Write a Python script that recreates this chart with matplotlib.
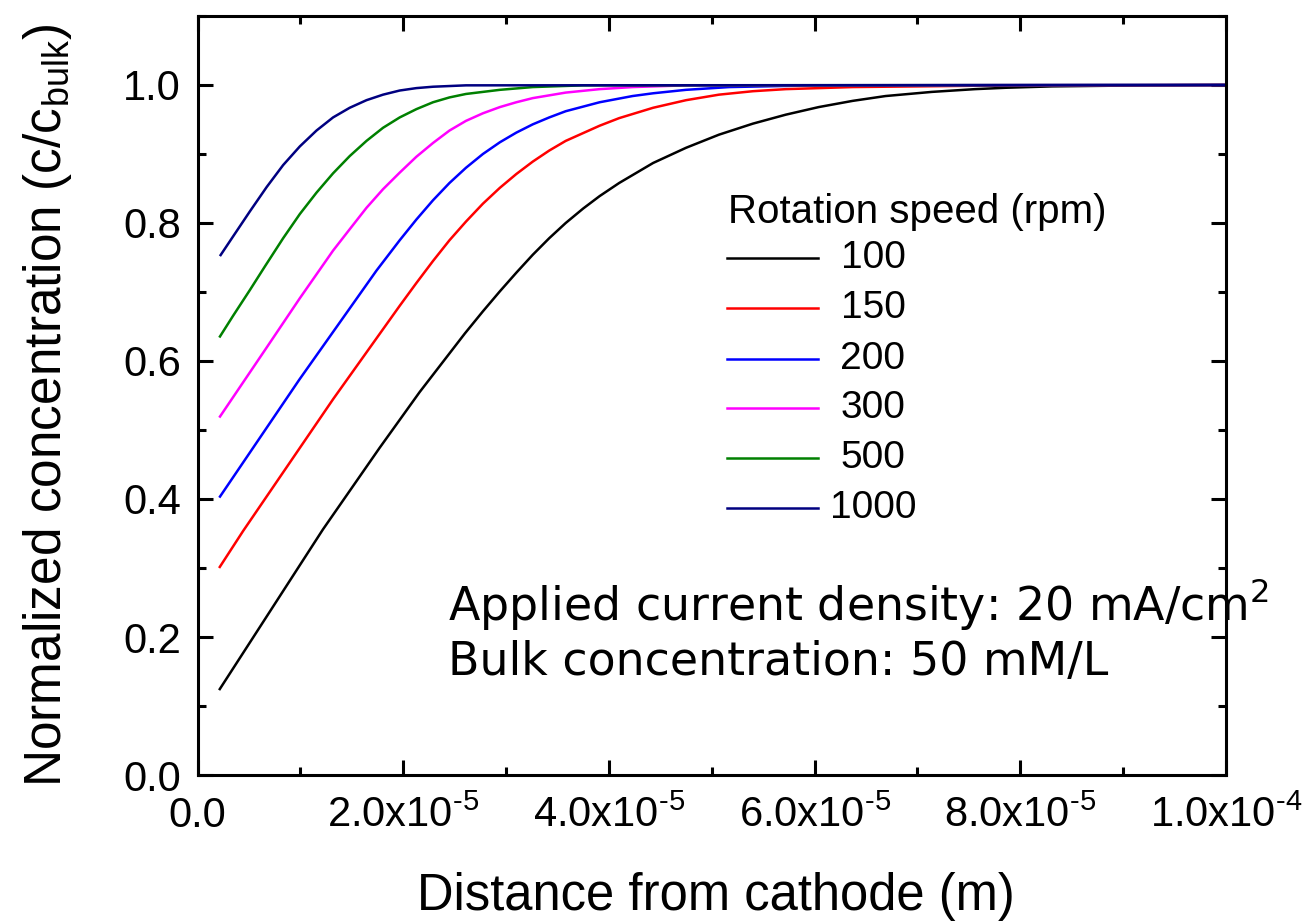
import numpy as np
import matplotlib
matplotlib.use('Agg')
import matplotlib.pyplot as plt
from matplotlib.ticker import MultipleLocator, FuncFormatter

# distance from cathode, in 1e-6 m, and normalized concentration c/c_bulk
x_100 = [2.1, 12.2, 17.7, 21.6, 26.0, 27.75, 29.4, 31.0, 32.6, 34.2, 35.8, 37.5, 39.1,
         41.0, 44.3, 47.5, 50.7, 54.0, 57.2, 60.4, 63.7, 66.9, 71.4, 75.6, 78.6, 83.1,
         92.2, 100.0]
y_100 = [0.123, 0.356, 0.474, 0.555, 0.640, 0.672, 0.701, 0.728, 0.754, 0.778, 0.800, 0.821,
         0.839, 0.858, 0.887, 0.909, 0.928, 0.944, 0.957, 0.968, 0.977, 0.984, 0.990, 0.994,
         0.996, 0.998, 0.9995, 1.0]

x_150 = [2.1, 4.45, 13.2, 19.66, 21.28, 22.9, 24.5, 26.1, 27.75, 29.4, 31.0, 32.6, 34.2,
         35.8, 39.1, 41.0, 44.3, 47.5, 50.7, 54.0, 57.2, 63.7, 70.0, 76.0, 100.0]
y_150 = [0.300, 0.354, 0.545, 0.680, 0.713, 0.745, 0.775, 0.802, 0.828, 0.851, 0.871, 0.889,
         0.905, 0.919, 0.941, 0.952, 0.967, 0.978, 0.986, 0.991, 0.994, 0.997, 0.998, 0.999, 1.0]

x_200 = [2.12, 9.9, 17.4, 19.66, 21.28, 22.9, 24.5, 26.1, 27.75, 29.4, 31.0, 32.6, 34.2,
         35.8, 39.1, 42.3, 44.3, 47.5, 51.7, 60.0, 100.0]
y_200 = [0.402, 0.573, 0.731, 0.775, 0.805, 0.833, 0.858, 0.880, 0.900, 0.917, 0.931, 0.943,
         0.953, 0.962, 0.975, 0.984, 0.988, 0.993, 0.997, 0.9995, 1.0]

x_300 = [2.12, 6.7, 9.95, 11.73, 13.18, 14.8, 16.43, 18.04, 19.66, 21.28, 22.9, 24.5, 26.1,
         27.75, 29.4, 31.0, 32.6, 35.8, 39.1, 42.3, 47.5, 100.0]
y_300 = [0.518, 0.619, 0.691, 0.729, 0.760, 0.791, 0.822, 0.849, 0.873, 0.896, 0.916, 0.934,
         0.948, 0.959, 0.968, 0.975, 0.981, 0.989, 0.994, 0.997, 0.9995, 1.0]

x_500 = [2.12, 3.48, 5.10, 6.55, 8.33, 9.95, 11.57, 13.18, 14.8, 16.43, 18.04, 19.66, 21.28,
         22.9, 24.5, 26.1, 29.4, 32.6, 37.5, 100.0]
y_500 = [0.634, 0.666, 0.703, 0.737, 0.778, 0.813, 0.844, 0.872, 0.897, 0.919, 0.938, 0.953,
         0.965, 0.975, 0.982, 0.987, 0.993, 0.997, 0.9995, 1.0]

x_1000 = [2.18, 3.48, 5.10, 6.72, 8.33, 9.95, 11.57, 13.18, 14.8, 16.43, 18.04, 19.66, 21.28,
          22.9, 26.1, 100.0]
y_1000 = [0.752, 0.781, 0.817, 0.852, 0.884, 0.911, 0.934, 0.953, 0.967, 0.978, 0.986, 0.992,
          0.9955, 0.9975, 0.9995, 1.0]

speeds = ['100', '150', '200', '300', '500', '1000']
colors = ['black', '#ff0000', '#0000ff', '#ff00ff', '#008000', '#000080']
curves = [(x_100, y_100), (x_150, y_150), (x_200, y_200),
          (x_300, y_300), (x_500, y_500), (x_1000, y_1000)]

plt.rcParams['font.family'] = ['Liberation Sans', 'DejaVu Sans']
plt.rcParams['mathtext.default'] = 'regular'

W, H = 1308, 921
fig = plt.figure(figsize=(W / 100, H / 100), dpi=100)
x0, x1, y0, y1 = 197.5, 1226.0, 16.0, 775.0
ax = fig.add_axes([x0 / W, 1 - y1 / H, (x1 - x0) / W, (y1 - y0) / H])


def ax_pos(px, py):
    # pixel in the picture -> axes fraction
    return (px - x0) / (x1 - x0), (y1 - py) / (y1 - y0)


for (xs, ys), c in zip(curves, colors):
    ax.plot(np.array(xs) * 1e-6, ys, color=c, lw=1.8, solid_capstyle='butt')

ax.set_xlim(0, 1e-4)
ax.set_ylim(0, 1.1)

ax.xaxis.set_major_locator(MultipleLocator(2e-5))
ax.xaxis.set_minor_locator(MultipleLocator(1e-5))
ax.yaxis.set_major_locator(MultipleLocator(0.2))
ax.yaxis.set_minor_locator(MultipleLocator(0.1))


def xfmt(v, pos):
    if abs(v) < 1e-12:
        return '0.0'
    if v < 0:
        return ''
    e = int(np.floor(np.log10(v) + 1e-9))
    m = v / 10 ** e
    # plain hyphen in the exponent, like the original
    return '%.1fx10$^{\u2010%d}$' % (m, -e)


ax.xaxis.set_major_formatter(FuncFormatter(xfmt))
ax.yaxis.set_major_formatter(FuncFormatter(lambda v, p: '%.1f' % abs(v)))

for s in ax.spines.values():
    s.set_linewidth(2.2)
ax.tick_params(which='both', direction='in', top=True, right=True, width=2.2)
ax.tick_params(which='major', length=11, labelsize=30)
ax.tick_params(axis='x', which='major', pad=15)
ax.tick_params(axis='y', which='major', pad=12)
ax.tick_params(which='minor', length=6)

ax.set_xlabel('Distance from cathode (m)', fontsize=36.5)
ax.set_ylabel('Normalized concentration (c/c$_{bulk}$)', fontsize=37)
ax.xaxis.set_label_coords(*ax_pos(716, 872))
ax.yaxis.set_label_coords(*ax_pos(74, 405))

# legend drawn by hand so the numbers sit centred like the original
tx, ty = ax_pos(728, 212)
ax.text(tx, ty, 'Rotation speed (rpm)', transform=ax.transAxes, fontsize=29,
        ha='left', va='center')
rows = [258.3, 307.7, 359.0, 408.3, 458.3, 508.3]
for lab, c, py in zip(speeds, colors, rows):
    hx0, hy = ax_pos(727, py)
    hx1, _ = ax_pos(818, py)
    ax.plot([hx0, hx1], [hy, hy], color=c, lw=1.8, transform=ax.transAxes)
    lx, _ = ax_pos(873, py)
    ax.text(lx, hy, lab, transform=ax.transAxes, fontsize=28, ha='center', va='center')

ax1x, ax1y = ax_pos(448, 620)
ax.text(ax1x, ax1y, 'Applied current density: 20 mA/cm$^{2}$', transform=ax.transAxes,
        fontsize=33, ha='left', va='baseline', family=['DejaVu Sans'])
ax2x, ax2y = ax_pos(448, 675)
ax.text(ax2x, ax2y, 'Bulk concentration: 50 mM/L', transform=ax.transAxes,
        fontsize=33, ha='left', va='baseline', family=['DejaVu Sans'])

fig.savefig('out.png', dpi=100)
